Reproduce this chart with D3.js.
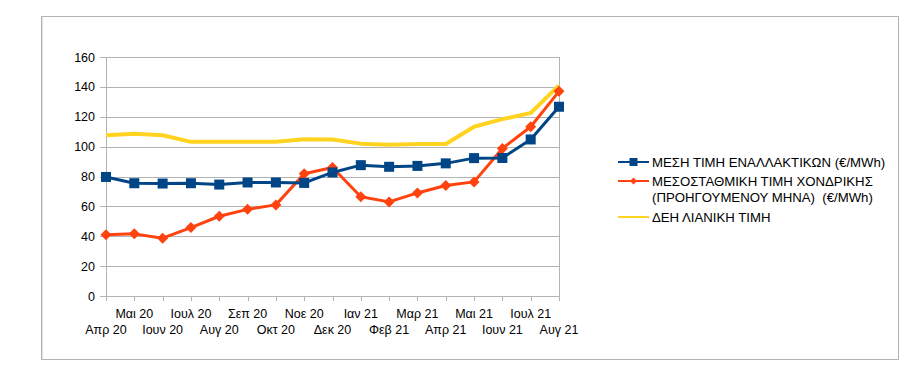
<!DOCTYPE html>
<html>
<head>
<meta charset="utf-8">
<script src="https://cdn.jsdelivr.net/npm/d3@7"></script>
<style>
  body { margin: 0; background: #fff; }
  text { font-family: "Liberation Sans", Arial, sans-serif; fill: #000; }
</style>
</head>
<body>
<div id="chart-area"></div>
<script>
const chartAreaWidth = 917
const chartAreaHeight = 376

// Data
const months = ["Απρ 20", "Μαι 20", "Ιουν 20", "Ιουλ 20", "Αυγ 20", "Σεπ 20", "Οκτ 20", "Νοε 20", "Δεκ 20",
    "Ιαν 21", "Φεβ 21", "Μαρ 21", "Απρ 21", "Μαι 21", "Ιουν 21", "Ιουλ 21", "Αυγ 21"];
const altPrice = [79.7, 75.5, 75.3, 75.5, 74.6, 76, 76, 75.7, 82.7, 87.6, 86.5, 87.1, 88.8, 92.3, 92.4, 104.8, 126.7];
const wholesalePrice = [41, 41.6, 38.7, 45.8, 53.4, 58, 61, 81.8, 86, 66.4, 63, 69, 74, 76.4, 98.8, 113.3, 137];
const deiPrice = [107.6, 108.7, 107.6, 103.2, 103.2, 103.2, 103.2, 105, 104.8, 102, 101.2, 101.8, 101.8, 113.3, 118.4, 122.5, 141];
const yTicks = [0, 20, 40, 60, 80, 100, 120, 140, 160];

const seriesNames = [
    ["ΜΕΣΗ ΤΙΜΗ ΕΝΑΛΛΑΚΤΙΚΩΝ (€/MWh)"],
    ["ΜΕΣΟΣΤΑΘΜΙΚΗ ΤΙΜΗ ΧΟΝΔΡΙΚΗΣ", "(ΠΡΟΗΓΟΥΜΕΝΟΥ ΜΗΝΑ)  (€/MWh)"],
    ["ΔΕΗ ΛΙΑΝΙΚΗ ΤΙΜΗ"]
];

const plot = {left: 106, right: 559, top: 57, bottom: 296};

const svg = d3.select("#chart-area").append("svg")
    .attr("width", chartAreaWidth)
    .attr("height", chartAreaHeight);

// outer frame
svg.append("rect")
    .attr("x", 41.5).attr("y", 16.5)
    .attr("width", 857).attr("height", 343)
    .attr("fill", "#fff")
    .attr("stroke", "#b3b3b3");
svg.append("line")
    .attr("x1", 42.5).attr("x2", 42.5).attr("y1", 17).attr("y2", 359)
    .attr("stroke", "#e0e0e0");

const x = d3.scalePoint()
    .domain(months)
    .range([plot.left, plot.right]);

const y = d3.scaleLinear()
    .domain([0, 160])
    .range([plot.bottom, plot.top]);

// gridlines
svg.append("g")
    .selectAll("line")
    .data(yTicks)
    .join("line")
    .attr("x1", plot.left - 6)
    .attr("x2", plot.right)
    .attr("y1", d => Math.round(y(d)) + 0.5)
    .attr("y2", d => Math.round(y(d)) + 0.5)
    .attr("stroke", "#b3b3b3");

// right wall
svg.append("line")
    .attr("x1", plot.right + 0.5).attr("x2", plot.right + 0.5)
    .attr("y1", plot.top).attr("y2", plot.bottom + 5)
    .attr("stroke", "#b3b3b3");

// y axis line
svg.append("line")
    .attr("x1", plot.left + 0.5).attr("x2", plot.left + 0.5)
    .attr("y1", plot.top).attr("y2", plot.bottom + 5)
    .attr("stroke", "#b3b3b3");

// y labels
svg.append("g")
    .selectAll("text")
    .data(yTicks)
    .join("text")
    .attr("x", 95)
    .attr("y", d => y(d))
    .attr("dy", "0.36em")
    .attr("text-anchor", "end")
    .attr("font-size", "12.5px")
    .text(d => d);

// x ticks
svg.append("g")
    .selectAll("line")
    .data(months)
    .join("line")
    .attr("x1", d => Math.round(x(d)) + 0.5)
    .attr("x2", d => Math.round(x(d)) + 0.5)
    .attr("y1", plot.bottom)
    .attr("y2", plot.bottom + 5)
    .attr("stroke", "#b3b3b3");

// x labels, staggered on two rows
svg.append("g")
    .selectAll("text")
    .data(months)
    .join("text")
    .attr("x", d => x(d))
    .attr("y", (d, i) => i % 2 === 0 ? 334 : 318)
    .attr("text-anchor", "middle")
    .attr("font-size", "12.5px")
    .text(d => d);

// lines
const line = d3.line()
    .x((d, i) => x(months[i]))
    .y(d => y(d));

svg.append("path")
    .datum(deiPrice)
    .attr("fill", "none")
    .attr("stroke", "#ffd320")
    .attr("stroke-width", 4)
    .attr("stroke-linejoin", "round")
    .attr("d", line);

svg.append("path")
    .datum(wholesalePrice)
    .attr("fill", "none")
    .attr("stroke", "#ff420e")
    .attr("stroke-width", 3)
    .attr("stroke-linejoin", "round")
    .attr("d", line);

svg.append("g")
    .selectAll("path")
    .data(wholesalePrice)
    .join("path")
    .attr("transform", (d, i) => `translate(${x(months[i])}, ${y(d)})`)
    .attr("d", "M0,-5.5L5.5,0L0,5.5L-5.5,0Z")
    .attr("fill", "#ff420e");

svg.append("path")
    .datum(altPrice)
    .attr("fill", "none")
    .attr("stroke", "#004586")
    .attr("stroke-width", 3)
    .attr("stroke-linejoin", "round")
    .attr("d", line);

svg.append("g")
    .selectAll("rect")
    .data(altPrice)
    .join("rect")
    .attr("x", (d, i) => x(months[i]) - 5)
    .attr("y", d => y(d) - 5)
    .attr("width", 10)
    .attr("height", 10)
    .attr("fill", "#004586");

// legend
const legendColors = ["#004586", "#ff420e", "#ffd320"];
const legendY = [162, 181, 217];

const legend = svg.append("g");
seriesNames.forEach((names, i) => {
    const ly = legendY[i];
    legend.append("line")
        .attr("x1", 618).attr("x2", 649)
        .attr("y1", ly).attr("y2", ly)
        .attr("stroke", legendColors[i])
        .attr("stroke-width", 2);
    if (i === 0) {
        legend.append("rect")
            .attr("x", 629.5).attr("y", ly - 4)
            .attr("width", 8).attr("height", 8)
            .attr("fill", legendColors[i]);
    } else if (i === 1) {
        legend.append("path")
            .attr("transform", `translate(633.5, ${ly})`)
            .attr("d", "M0,-3.5L3.5,0L0,3.5L-3.5,0Z")
            .attr("fill", legendColors[i]);
    }
    names.forEach((t, j) => {
        legend.append("text")
            .attr("x", 652)
            .attr("y", ly + j * 16)
            .attr("dy", "0.36em")
            .attr("font-size", "13.2px")
            .style("white-space", "pre")
            .text(t);
    });
});
</script>
</body>
</html>
